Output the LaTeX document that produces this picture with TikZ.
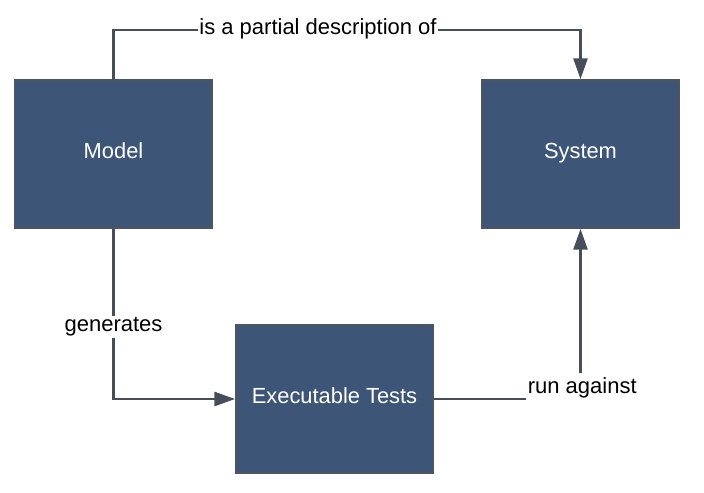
\documentclass[tikz,border=0pt]{standalone}
\usepackage{fontspec}
\setmainfont{Liberation Sans}
\usetikzlibrary{arrows.meta}
\definecolor{boxfill}{HTML}{3D5577}
\definecolor{boxline}{HTML}{4E5461}
\definecolor{conncol}{HTML}{474D5A}
\tikzset{
  blockbox/.style={draw=boxline, line width=1.8pt*0.75, fill=boxfill, minimum width=197*0.75pt, minimum height=148*0.75pt, inner sep=0pt, text=white, text depth=4.5pt, font=\fontsize{16.4pt}{19pt}\selectfont},
  conn/.style={draw=conncol, line width=2.4*0.75pt},
  arr/.style={conn, -{Triangle[length=15.5pt,width=10.5pt]}},
  lbl/.style={fill=white, inner sep=1pt, text=black, font=\fontsize{16.5pt}{19pt}\selectfont}
}
\begin{document}
\begin{tikzpicture}[x=0.75pt,y=-0.75pt]
\useasboundingbox (0,0) rectangle (704,493);
\node[blockbox] (model) at (113.5,154) {Model};
\node[blockbox] (system) at (580.5,154) {System};
\node[blockbox] (tests) at (334.5,399) {Executable Tests};
\coordinate (tl) at (113.5,30);
\coordinate (tr) at (580.5,30);
\coordinate (bl) at (113.5,399);
\coordinate (br) at (580.5,399);
\draw[arr] (model.north) -- (tl) -- (tr) -- (system.north);
\draw[arr] (model.south) -- (bl) -- (tests.west);
\draw[arr] (tests.east) -- (br) -- (system.south);
\node[lbl] (l1) at (318,29) {is a partial description of};
\node[lbl] (l2) at (113.5,327) {generates};
\node[lbl, inner sep=0pt, minimum height=29*0.75pt, minimum width=112*0.75pt, anchor=north west] (l3) at (526,373) {run against};
\end{tikzpicture}
\end{document}
